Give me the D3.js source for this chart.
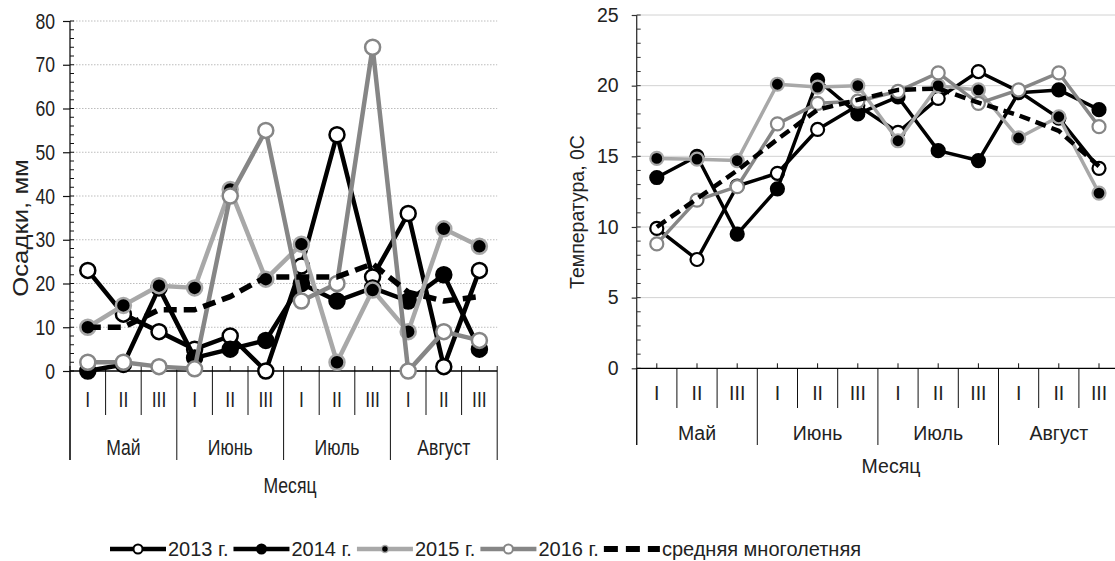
<!DOCTYPE html>
<html><head><meta charset="utf-8">
<script src="https://cdn.jsdelivr.net/npm/d3@7"></script>
<style>body{margin:0;background:#fff} svg{display:block}</style>
</head><body>
<svg id="c" width="1115" height="561"></svg>
<script>
// ---------- DATA ----------
const decades = ["I", "II", "III"];
const months = ["Май", "Июнь", "Июль", "Август"];
const categories = months.flatMap(m => decades.map(d => m + " " + d));
const precipTicks = [0, 10, 20, 30, 40, 50, 60, 70, 80];
const tempTicks = [0, 5, 10, 15, 20, 25];
const seriesNames = ["2013 г.", "2014 г.", "2015 г.", "2016 г.", "средняя многолетняя"];

const precip2013 = [23, 13, 9, 5, 8, 0, 24, 54, 21.5, 36, 1, 23];
const precip2014 = [0, 1.5, 19, 3, 5, 7, 20, 16, 19, 16, 22, 5];
const precip2015 = [10, 15, 19.5, 19, 41.5, 21, 29, 2, 18.5, 9, 32.5, 28.5];
const precip2016 = [2, 2, 1, 0.5, 40, 55, 16, 20, 74, 0, 9, 7];
const precipAvg  = [10, 10, 14, 14, 17, 21.5, 21.5, 21.5, 24.5, 18, 16, 17];

const temp2013 = [9.9, 7.7, 12.9, 13.8, 16.9, 18.6, 16.7, 19.1, 21.0, 19.6, 17.7, 14.15];
const temp2014 = [13.5, 15.0, 9.5, 12.7, 20.4, 18.0, 19.2, 15.4, 14.7, 19.5, 19.7, 18.3];
const temp2015 = [14.85, 14.8, 14.7, 20.1, 19.9, 20.0, 16.1, 20.0, 19.7, 16.3, 17.8, 12.4];
const temp2016 = [8.8, 11.9, 12.85, 17.3, 18.75, 18.9, 19.6, 20.9, 18.75, 19.7, 20.9, 17.1];
const tempAvg  = [10, 12, 14, 16.2, 18.3, 19.0, 19.7, 19.8, 18.8, 17.9, 16.8, 14.3];

// ---------- STYLE ----------
const FONT = "'Liberation Sans', Arial, sans-serif";
const styles = [
  {line: "#000", fill: "#fff", stroke: "#000"},
  {line: "#000", fill: "#000", stroke: "#000"},
  {line: "#a8a8a8", fill: "#000", stroke: "#a8a8a8"},
  {line: "#868686", fill: "#fff", stroke: "#868686"},
  {line: "#000", dash: true}
];

const svg = d3.select("#c");

// compress/stretch text horizontally; returns resulting width of last element
function narrow(sel, f) {
  let out = 0;
  sel.each(function () {
    const w = this.getComputedTextLength();
    out = w * f;
    if (w > 0 && f !== 1) {
      this.setAttribute("textLength", w * f);
      this.setAttribute("lengthAdjust", "spacingAndGlyphs");
    }
  });
  return out;
}

function drawChart(o) {
  const g = svg.append("g");
  const x = d3.scaleBand().domain(d3.range(categories.length)).range([o.x0, o.x1]);
  const bw = x.bandwidth();
  const cx = i => x(i) + bw / 2;
  const y = d3.scaleLinear().domain([0, o.max]).range([o.yb, o.yt]);

  // grid
  g.append("g").selectAll("line").data(o.ticks.filter(t => t > 0)).join("line")
    .attr("x1", o.x0).attr("x2", o.gridEnd)
    .attr("y1", d => y(d)).attr("y2", d => y(d))
    .attr("stroke", o.gridColor).attr("stroke-width", 1)
    .attr("stroke-dasharray", o.gridDash || null);

  // minor ticks
  g.append("g").selectAll("line").data(d3.range(0, o.max + 1e-9, o.minor)).join("line")
    .attr("x1", o.x0).attr("x2", o.x0 + o.minorLen)
    .attr("y1", d => y(d)).attr("y2", d => y(d))
    .attr("stroke", o.axisColor).attr("stroke-width", 1);

  // y axis
  const yAxis = d3.axisLeft(y).tickValues(o.ticks).tickSize(o.majorTick)
    .tickPadding(o.pad).tickFormat(d3.format("d"));
  const ya = g.append("g").attr("transform", `translate(${o.x0},0)`).call(yAxis);
  ya.select(".domain").remove();
  ya.selectAll(".tick line").attr("stroke", o.axisColor).attr("stroke-width", 1.2);
  ya.selectAll(".tick text").attr("font-family", FONT).attr("font-size", o.tickFont).attr("fill", "#222");
  narrow(ya.selectAll(".tick text"), o.narrow);

  // vertical axis line
  g.append("line").attr("x1", o.x0).attr("x2", o.x0)
    .attr("y1", y(o.max)).attr("y2", o.monthBottom)
    .attr("stroke", o.axisColor).attr("stroke-width", o.axisW);

  // category boundaries
  g.append("g").selectAll("line").data(d3.range(categories.length + 1)).join("line")
    .attr("x1", k => o.x0 + k * x.step()).attr("x2", k => o.x0 + k * x.step())
    .attr("y1", y(0) - o.boundUp)
    .attr("y2", k => (k % 3 === 0 ? o.monthBottom : o.decBottom))
    .attr("stroke", "#111").attr("stroke-width", 1);

  // x axis (center ticks + decade labels)
  const xAxis = d3.axisBottom(x).tickSize(-5).tickSizeOuter(0).tickPadding(o.romanPad)
    .tickFormat(i => decades[i % 3]);
  const xa = g.append("g").attr("transform", `translate(0,${y(0)})`).call(xAxis);
  xa.select(".domain").remove();
  xa.selectAll(".tick line").attr("stroke", "#111");
  xa.selectAll(".tick text").attr("font-family", FONT).attr("font-size", o.tickFont).attr("fill", "#222");
  narrow(xa.selectAll(".tick text"), o.narrow);

  g.append("line").attr("x1", o.x0).attr("x2", o.gridEnd)
    .attr("y1", y(0)).attr("y2", y(0)).attr("stroke", "#000").attr("stroke-width", o.axisW);

  // month labels
  const ml = g.append("g").selectAll("text").data(months).join("text")
    .attr("x", (m, j) => x(j * 3) + 1.5 * bw).attr("y", o.monthY)
    .attr("text-anchor", "middle").attr("font-family", FONT)
    .attr("font-size", o.tickFont).attr("fill", "#222").text(d => d);
  narrow(ml, o.narrow);

  // x title
  const xt = g.append("text").attr("x", o.titleX).attr("y", o.titleY)
    .attr("text-anchor", "middle").attr("font-family", FONT)
    .attr("font-size", o.tickFont).attr("fill", "#222").text("Месяц");
  narrow(xt, o.narrow);

  // y title
  const yt = g.append("text").attr("transform", `translate(${o.yLabX},${o.yLabY}) rotate(-90)`)
    .attr("text-anchor", "middle").attr("dominant-baseline", "central")
    .attr("font-family", FONT).attr("font-size", o.yLabFont).attr("fill", "#222").text(o.yLabel);
  narrow(yt, o.yLabStretch);

  // series
  const line = d3.line().x((d, i) => cx(i)).y(d => y(d));
  o.series.forEach((vals, s) => {
    const st = styles[s];
    g.append("path").attr("d", line(vals)).attr("fill", "none")
      .attr("stroke", st.line)
      .attr("stroke-width", st.dash ? o.dashW : o.lw)
      .attr("stroke-dasharray", st.dash ? o.dashPat : null)
      .attr("stroke-linejoin", "round");
    if (!st.dash) {
      g.append("g").selectAll("circle").data(vals).join("circle")
        .attr("cx", (d, i) => cx(i)).attr("cy", d => y(d)).attr("r", o.r)
        .attr("fill", st.fill).attr("stroke", st.stroke).attr("stroke-width", o.ms);
    }
  });
}

// left: precipitation
drawChart({
  x0: 70, x1: 497.2, yb: 371, yt: 21, max: 80, ticks: precipTicks, minor: 2, minorLen: 4,
  gridEnd: 497.2, gridColor: "#bdbdbd", gridDash: "1.5,1.5", axisColor: "#111", axisW: 1.3,
  majorTick: 7, pad: 8, tickFont: 22, narrow: 0.8,
  boundUp: 5, decBottom: 415, monthBottom: 460, romanPad: 20, monthY: 455,
  titleX: 290, titleY: 493, yLabX: 20, yLabY: 228, yLabFont: 22, yLabStretch: 1.17,
  yLabel: "Осадки, мм",
  series: [precip2013, precip2014, precip2015, precip2016, precipAvg],
  lw: 4.5, r: 7.5, ms: 2.5, dashW: 5.5, dashPat: "13,7"
});

// right: temperature
drawChart({
  x0: 636.7, x1: 1119.1, yb: 368.3, yt: 15, max: 25, ticks: tempTicks, minor: 1, minorLen: 4,
  gridEnd: 1115, gridColor: "#d2d2d2", gridDash: null, axisColor: "#333", axisW: 1.3,
  majorTick: 5, pad: 13, tickFont: 19.5, narrow: 1,
  boundUp: 0, decBottom: 408, monthBottom: 445, romanPad: 18, monthY: 440,
  titleX: 891, titleY: 473, yLabX: 577, yLabY: 212, yLabFont: 19.5, yLabStretch: 1,
  yLabel: "Температура, 0С",
  series: [temp2013, temp2014, temp2015, temp2016, tempAvg],
  lw: 3.5, r: 6.5, ms: 2.2, dashW: 4.5, dashPat: "11,6"
});

// legend
const lg = svg.append("g");
const ly = 549;
let lx = 110;
seriesNames.forEach((name, s) => {
  const st = styles[s];
  const symW = 56;
  lg.append("line").attr("x1", lx).attr("x2", lx + symW).attr("y1", ly).attr("y2", ly)
    .attr("stroke", st.line).attr("stroke-width", st.dash ? 6 : 4.5)
    .attr("stroke-dasharray", st.dash ? "14,8" : null);
  if (!st.dash) {
    lg.append("circle").attr("cx", lx + symW / 2).attr("cy", ly)
      .attr("r", s === 2 ? 3.5 : 4.5)
      .attr("fill", st.fill).attr("stroke", st.stroke).attr("stroke-width", s === 2 ? 1.5 : 2);
  }
  const t = lg.append("text").attr("x", lx + symW + 2).attr("y", ly + 7)
    .attr("font-family", FONT).attr("font-size", 20).attr("fill", "#222").text(name);
  const w = narrow(t, 1);
  lx = lx + symW + 2 + w + 5;
});
</script>
</body></html>
